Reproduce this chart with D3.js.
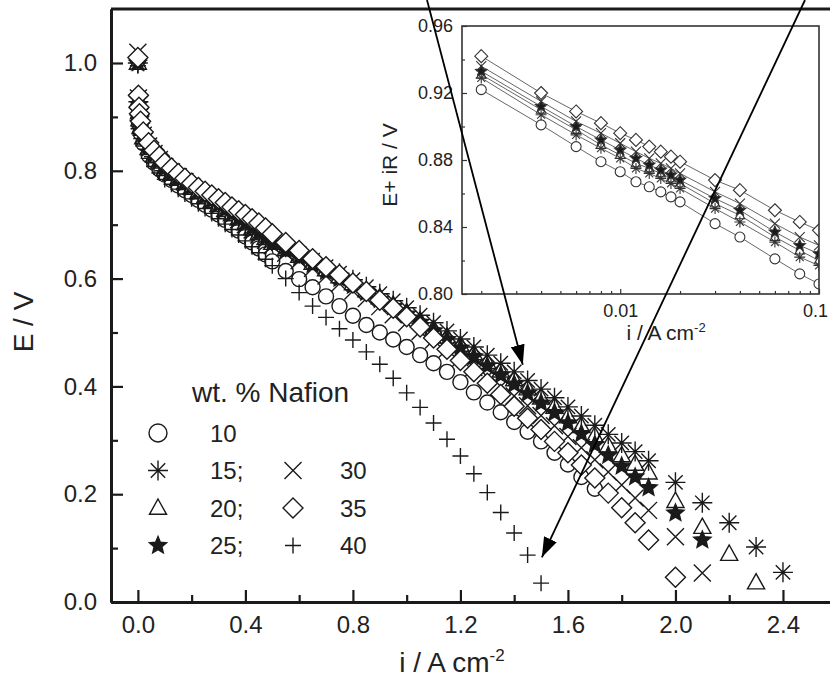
<!DOCTYPE html>
<html lang="en">
<head>
<meta charset="utf-8">
<title>Polarization curves for different Nafion loadings</title>
<script src="https://cdn.jsdelivr.net/npm/d3@7"></script>
<style>
  body { margin: 0; background: #fff; }
  svg { display: block; font-family: "Liberation Sans", Arial, Helvetica, sans-serif; }
</style>
</head>
<body>
<script>
// values (i in A cm-2, E in V)
const currents = [0, 0.002, 0.004, 0.006, 0.01, 0.02, 0.04, 0.06, 0.08,
  0.1, 0.125, 0.15, 0.175, 0.2, 0.225, 0.25, 0.275, 0.3, 0.325, 0.35, 0.375, 0.4, 0.425, 0.45, 0.475, 0.5,
  0.55, 0.6, 0.65, 0.7, 0.75, 0.8, 0.85, 0.9, 0.95, 1.0, 1.05, 1.1, 1.15, 1.2, 1.25, 1.3, 1.35, 1.4,
  1.45, 1.5, 1.55, 1.6, 1.65, 1.7, 1.75, 1.8, 1.85, 1.9];
const tailCurrents = [2.0, 2.1, 2.2, 2.3, 2.4];

const e10 = [1.005, 0.921, 0.899, 0.886, 0.870, 0.851, 0.829, 0.815, 0.803,
  0.793, 0.783, 0.773, 0.764, 0.755, 0.746, 0.737, 0.728, 0.719, 0.709, 0.699, 0.689, 0.678, 0.667, 0.656, 0.645, 0.632,
  0.614, 0.599, 0.584, 0.567, 0.549, 0.531, 0.514, 0.500, 0.487, 0.473, 0.458, 0.443, 0.427, 0.408, 0.389, 0.370,
  0.352, 0.334, 0.316, 0.298, 0.277, 0.255, 0.232, 0.210];
const e15 = [1.00, 0.928, 0.906, 0.893, 0.878, 0.860, 0.840, 0.826, 0.815,
  0.800, 0.792, 0.784, 0.776, 0.768, 0.760, 0.752, 0.744, 0.736, 0.728, 0.720, 0.712, 0.703, 0.695, 0.686, 0.678, 0.670,
  0.658, 0.646, 0.634, 0.622, 0.610, 0.598, 0.585, 0.572, 0.559, 0.546, 0.532, 0.518, 0.503, 0.488, 0.473, 0.458,
  0.443, 0.427, 0.411, 0.395, 0.379, 0.362, 0.345, 0.328, 0.311, 0.295, 0.279, 0.262];
const e20 = [1.00, 0.930, 0.908, 0.895, 0.881, 0.862, 0.842, 0.828, 0.817,
  0.803, 0.794, 0.785, 0.777, 0.768, 0.760, 0.752, 0.744, 0.736, 0.727, 0.719, 0.711, 0.702, 0.693, 0.684, 0.675, 0.666,
  0.654, 0.642, 0.629, 0.617, 0.604, 0.591, 0.578, 0.565, 0.551, 0.537, 0.522, 0.507, 0.492, 0.477, 0.461, 0.445,
  0.429, 0.413, 0.396, 0.379, 0.362, 0.344, 0.326, 0.308, 0.290, 0.272, 0.256, 0.240];
const e25 = [1.00, 0.932, 0.910, 0.897, 0.883, 0.864, 0.844, 0.830, 0.819,
  0.805, 0.796, 0.787, 0.778, 0.770, 0.761, 0.753, 0.745, 0.737, 0.728, 0.720, 0.711, 0.702, 0.693, 0.684, 0.675, 0.665,
  0.652, 0.639, 0.626, 0.613, 0.600, 0.587, 0.574, 0.561, 0.548, 0.534, 0.519, 0.503, 0.487, 0.471, 0.455, 0.438,
  0.421, 0.404, 0.387, 0.369, 0.351, 0.332, 0.312, 0.292, 0.272, 0.252, 0.232, 0.212];
const e30 = [1.02, 0.935, 0.913, 0.900, 0.886, 0.866, 0.846, 0.832, 0.821,
  0.808, 0.798, 0.789, 0.780, 0.771, 0.762, 0.754, 0.745, 0.736, 0.727, 0.718, 0.709, 0.700, 0.690, 0.681, 0.671, 0.661,
  0.647, 0.633, 0.619, 0.605, 0.591, 0.577, 0.563, 0.548, 0.533, 0.518, 0.502, 0.486, 0.469, 0.452, 0.435, 0.418,
  0.400, 0.382, 0.364, 0.346, 0.327, 0.307, 0.286, 0.264, 0.241, 0.217, 0.193, 0.170];
const e35 = [1.01, 0.940, 0.918, 0.906, 0.892, 0.872, 0.852, 0.838, 0.827,
  0.815, 0.805, 0.795, 0.786, 0.777, 0.769, 0.762, 0.755, 0.748, 0.741, 0.733, 0.726, 0.719, 0.711, 0.703, 0.694, 0.683,
  0.667, 0.652, 0.637, 0.622, 0.607, 0.592, 0.576, 0.560, 0.545, 0.529, 0.510, 0.490, 0.469, 0.448, 0.427, 0.406,
  0.385, 0.363, 0.341, 0.320, 0.298, 0.277, 0.254, 0.230, 0.202, 0.175, 0.147, 0.115];
const e40 = [0.995, 0.918, 0.895, 0.882, 0.866, 0.846, 0.823, 0.808, 0.796,
  0.784, 0.775, 0.766, 0.757, 0.748, 0.739, 0.730, 0.721, 0.711, 0.701, 0.691, 0.681, 0.670, 0.659, 0.648, 0.636, 0.624,
  0.600, 0.574, 0.549, 0.528, 0.507, 0.486, 0.464, 0.441, 0.415, 0.388, 0.361, 0.332, 0.302, 0.271, 0.238, 0.203,
  0.166, 0.128, 0.087, 0.035];

// last points past 1.9 A cm-2 (2.0, 2.1, 2.2, 2.3, 2.4)
const tail15 = [0.222, 0.184, 0.147, 0.102, 0.055];
const tail20 = [0.187, 0.139, 0.089, 0.036];
const tail25 = [0.165, 0.115];
const tail30 = [0.121, 0.054];
const tail35 = [0.046];

// inset: iR-corrected potential vs log current
const insetCurrents = [0.002, 0.004, 0.006, 0.008, 0.010, 0.012, 0.014, 0.016, 0.018, 0.020, 0.03, 0.04, 0.06, 0.08, 0.1];
const inset10 = [0.922, 0.901, 0.888, 0.879, 0.873, 0.867, 0.864, 0.861, 0.858, 0.855, 0.842, 0.834, 0.821, 0.812, 0.806];
const inset15 = [0.929, 0.907, 0.895, 0.887, 0.881, 0.875, 0.872, 0.869, 0.866, 0.863, 0.851, 0.843, 0.831, 0.822, 0.817];
const inset20 = [0.931, 0.910, 0.898, 0.889, 0.883, 0.878, 0.875, 0.872, 0.869, 0.866, 0.854, 0.847, 0.834, 0.826, 0.820];
const inset25 = [0.933, 0.912, 0.900, 0.892, 0.886, 0.881, 0.877, 0.874, 0.871, 0.868, 0.857, 0.850, 0.837, 0.829, 0.824];
const inset30 = [0.936, 0.915, 0.903, 0.896, 0.890, 0.885, 0.881, 0.878, 0.875, 0.872, 0.861, 0.854, 0.842, 0.834, 0.829];
const inset35 = [0.942, 0.920, 0.909, 0.902, 0.896, 0.892, 0.888, 0.885, 0.882, 0.879, 0.868, 0.862, 0.850, 0.843, 0.838];

const xMajor = [0, 0.4, 0.8, 1.2, 1.6, 2.0, 2.4];
const xMinor = [0.2, 0.6, 1.0, 1.4, 1.8, 2.2];
const yMajor = [0, 0.2, 0.4, 0.6, 0.8, 1.0];
const yMinor = [0.1, 0.3, 0.5, 0.7, 0.9];
const insetYMajor = [0.80, 0.84, 0.88, 0.92, 0.96];
const insetYMinor = [0.82, 0.86, 0.90, 0.94];
const insetXMajor = [0.01, 0.1];
const insetXMinor = [0.002, 0.003, 0.004, 0.005, 0.006, 0.007, 0.008, 0.009,
  0.02, 0.03, 0.04, 0.05, 0.06, 0.07, 0.08, 0.09];

const width = 830, height = 679;
const ink = "#1a1a1a";

// marker shapes, size = radius in px
const shapes = {
  circle: { draw(c, r) { c.moveTo(r, 0); c.arc(0, 0, r, 0, 2 * Math.PI); } },
  diamond: { draw(c, r) { c.moveTo(0, -r); c.lineTo(r, 0); c.lineTo(0, r); c.lineTo(-r, 0); c.closePath(); } },
  triangle: { draw(c, r) { c.moveTo(0, -r); c.lineTo(r * 0.95, r * 0.7); c.lineTo(-r * 0.95, r * 0.7); c.closePath(); } },
  star: { draw(c, r) {
    for (let k = 0; k < 10; k++) {
      const a = -Math.PI / 2 + k * Math.PI / 5, rr = k % 2 ? r * 0.45 : r;
      if (k) c.lineTo(rr * Math.cos(a), rr * Math.sin(a)); else c.moveTo(rr * Math.cos(a), rr * Math.sin(a));
    }
    c.closePath();
  } },
  asterisk: { draw(c, r) {
    const d = r * 0.72;
    c.moveTo(0, -r); c.lineTo(0, r); c.moveTo(-r, 0); c.lineTo(r, 0);
    c.moveTo(-d, -d); c.lineTo(d, d); c.moveTo(d, -d); c.lineTo(-d, d);
  } },
  cross: { draw(c, r) { c.moveTo(-r, -r); c.lineTo(r, r); c.moveTo(r, -r); c.lineTo(-r, r); } },
  plus: { draw(c, r) { c.moveTo(0, -r); c.lineTo(0, r); c.moveTo(-r, 0); c.lineTo(r, 0); } }
};

// draw order: back to front (diamonds last, like the white hatch in the scan)
const series = [
  { key: "10", e: e10, tail: [], shape: shapes.circle, r: 7.5, fill: "#fff", ir: inset10, insetR: 5 },
  { key: "20", e: e20, tail: tail20, shape: shapes.triangle, r: 9, fill: "#fff", ir: inset20, insetR: 5 },
  { key: "40", e: e40, tail: [], shape: shapes.plus, r: 8, fill: "none", ir: null },
  { key: "30", e: e30, tail: tail30, shape: shapes.cross, r: 8.5, fill: "none", ir: inset30, insetR: 5 },
  { key: "15", e: e15, tail: tail15, shape: shapes.asterisk, r: 10, fill: "none", ir: inset15, insetR: 5.5 },
  { key: "25", e: e25, tail: tail25, shape: shapes.star, r: 9, fill: ink, ir: inset25, insetR: 6 },
  { key: "35", e: e35, tail: tail35, shape: shapes.diamond, r: 10, fill: "#fff", ir: inset35, insetR: 6.5 }
];

const svg = d3.select("body").append("svg")
  .attr("width", width)
  .attr("height", height);
const defs = svg.append("defs");

const x = d3.scaleLinear().domain([-0.1, 2.575]).range([111, 830]);
const y = d3.scaleLinear().domain([0, 1.1]).range([602, 9.1]);

// top frame line
svg.append("line")
  .attr("x1", x.range()[0]).attr("x2", x.range()[1])
  .attr("y1", y(1.1)).attr("y2", y(1.1))
  .attr("stroke", ink).attr("stroke-width", 3);

// axes (ticks point inwards)
function styleAxis(g, fs) {
  g.select(".domain").attr("stroke", ink).attr("stroke-width", 3);
  g.selectAll(".tick line").attr("stroke", ink).attr("stroke-width", 2.2);
  g.selectAll(".tick text").attr("fill", "#222").style("font-size", fs + "px")
    .style("font-family", "'Liberation Sans', Arial, sans-serif");
}

svg.append("g").attr("transform", `translate(0,${y(0)})`)
  .call(d3.axisBottom(x).tickValues(xMinor).tickFormat("").tickSizeInner(-7).tickSizeOuter(0))
  .call(g => styleAxis(g, 24));
svg.append("g").attr("transform", `translate(0,${y(0)})`)
  .call(d3.axisBottom(x).tickValues(xMajor).tickFormat(d3.format(".1f")).tickSizeInner(-12).tickSizeOuter(0).tickPadding(14))
  .call(g => styleAxis(g, 24));
svg.append("g").attr("transform", `translate(${x(-0.1)},0)`)
  .call(d3.axisLeft(y).tickValues(yMinor).tickFormat("").tickSizeInner(-7).tickSizeOuter(0))
  .call(g => styleAxis(g, 24));
svg.append("g").attr("transform", `translate(${x(-0.1)},0)`)
  .call(d3.axisLeft(y).tickValues(yMajor).tickFormat(d3.format(".1f")).tickSizeInner(-12).tickSizeOuter(0).tickPadding(14))
  .call(g => styleAxis(g, 24));

// axis titles
svg.append("text")
  .attr("transform", "translate(33,322) rotate(-90)")
  .attr("text-anchor", "middle")
  .attr("fill", "#222")
  .style("font-size", "28px")
  .text("E / V");

const xt = svg.append("text")
  .attr("x", 452).attr("y", 672)
  .attr("text-anchor", "middle")
  .attr("fill", "#222")
  .style("font-size", "28px");
xt.append("tspan").text("i / A cm");
xt.append("tspan").attr("dy", -11).style("font-size", "17px").text("-2");

// main data
const sym = d3.symbol();
series.forEach(s => {
  const pts = s.e.map((v, k) => ({ i: currents[k], E: v }))
    .concat(s.tail.map((v, k) => ({ i: tailCurrents[k], E: v })));
  svg.append("g")
    .selectAll("path")
    .data(pts)
    .join("path")
    .attr("transform", d => `translate(${x(d.i)},${y(d.E)})`)
    .attr("d", sym.type(s.shape).size(s.r)())
    .attr("fill", s.fill)
    .attr("stroke", ink)
    .attr("stroke-width", 1.4);
});

// legend
const legend = svg.append("g");
legend.append("text")
  .attr("x", 192).attr("y", 402)
  .attr("fill", "#222")
  .style("font-size", "28px")
  .text("wt. % Nafion");

const legendItems = [
  { key: "10", label: "10", col: 0, row: 0 },
  { key: "15", label: "15;", col: 0, row: 1 },
  { key: "20", label: "20;", col: 0, row: 2 },
  { key: "25", label: "25;", col: 0, row: 3 },
  { key: "30", label: "30", col: 1, row: 1 },
  { key: "35", label: "35", col: 1, row: 2 },
  { key: "40", label: "40", col: 1, row: 3 }
];
legendItems.forEach(it => {
  const s = series.find(d => d.key === it.key);
  const sx = it.col ? 293 : 158, lx = it.col ? 340 : 210, ly = 433 + it.row * 37.5;
  legend.append("path")
    .attr("transform", `translate(${sx},${ly})`)
    .attr("d", d3.symbol().type(s.shape).size(s.key === "10" ? 9 : s.r)())
    .attr("fill", s.fill)
    .attr("stroke", ink)
    .attr("stroke-width", 1.4);
  legend.append("text")
    .attr("x", lx).attr("y", ly + 8.5)
    .attr("fill", "#222")
    .style("font-size", "24px")
    .text(it.label);
});

// inset
const xi = d3.scaleLog().domain([0.0016, 0.1]).range([462, 819]);
const yi = d3.scaleLinear().domain([0.80, 0.96]).range([294, 26]);
const inset = svg.append("g");

inset.append("rect")
  .attr("x", 462).attr("y", 26)
  .attr("width", 819 - 462).attr("height", 294 - 26)
  .attr("fill", "#fff");

defs.append("clipPath").attr("id", "insetClip")
  .append("rect")
  .attr("x", 462).attr("y", 26)
  .attr("width", 819 - 462).attr("height", 294 - 26);

const plotArea = inset.append("g").attr("clip-path", "url(#insetClip)");
const line = d3.line().x(d => xi(d.i)).y(d => yi(d.E));
series.filter(s => s.ir).forEach(s => {
  plotArea.append("path")
    .datum(s.ir.map((v, k) => ({ i: insetCurrents[k], E: v })))
    .attr("d", line)
    .attr("fill", "none")
    .attr("stroke", "#555")
    .attr("stroke-width", 0.9);
});
series.filter(s => s.ir).forEach(s => {
  plotArea.append("g")
    .selectAll("path")
    .data(s.ir.map((v, k) => ({ i: insetCurrents[k], E: v })))
    .join("path")
    .attr("transform", d => `translate(${xi(d.i)},${yi(d.E)})`)
    .attr("d", d3.symbol().type(s.shape).size(s.insetR)())
    .attr("fill", s.fill)
    .attr("stroke", "#333")
    .attr("stroke-width", 1.1);
});

inset.append("rect")
  .attr("x", 462).attr("y", 26)
  .attr("width", 819 - 462).attr("height", 294 - 26)
  .attr("fill", "none")
  .attr("stroke", "#333")
  .attr("stroke-width", 1.6);

function styleInset(g) {
  g.select(".domain").remove();
  g.selectAll(".tick line").attr("stroke", "#333").attr("stroke-width", 1.2);
  g.selectAll(".tick text").attr("fill", "#222").style("font-size", "18px")
    .style("font-family", "'Liberation Sans', Arial, sans-serif");
}
inset.append("g").attr("transform", "translate(0,294)")
  .call(d3.axisBottom(xi).tickValues(insetXMinor).tickFormat("").tickSizeInner(-3).tickSizeOuter(0))
  .call(styleInset);
inset.append("g").attr("transform", "translate(0,294)")
  .call(d3.axisBottom(xi).tickValues(insetXMajor).tickFormat(d => d === 0.1 ? "0.1" : "0.01").tickSizeInner(-5).tickSizeOuter(0).tickPadding(10))
  .call(styleInset)
  .call(g => g.selectAll(".tick text").filter(d => d === 0.1).attr("dx", -4));
inset.append("g").attr("transform", "translate(462,0)")
  .call(d3.axisLeft(yi).tickValues(insetYMinor).tickFormat("").tickSizeInner(-3).tickSizeOuter(0))
  .call(styleInset);
inset.append("g").attr("transform", "translate(462,0)")
  .call(d3.axisLeft(yi).tickValues(insetYMajor).tickFormat(d3.format(".2f")).tickSizeInner(-5).tickSizeOuter(0).tickPadding(9))
  .call(styleInset);

inset.append("text")
  .attr("transform", "translate(397,165) rotate(-90)")
  .attr("text-anchor", "middle")
  .attr("fill", "#222")
  .style("font-size", "21px")
  .text("E+ iR / V");
const xit = inset.append("text")
  .attr("x", 666).attr("y", 340)
  .attr("text-anchor", "middle")
  .attr("fill", "#222")
  .style("font-size", "21px");
xit.append("tspan").text("i / A cm");
xit.append("tspan").attr("dy", -8).style("font-size", "13px").text("-2");

// annotation arrows (start outside the picture, tips on the main plot)
defs.append("marker")
  .attr("id", "head")
  .attr("viewBox", "0 0 20 14")
  .attr("refX", 20).attr("refY", 7)
  .attr("markerWidth", 20).attr("markerHeight", 14)
  .attr("markerUnits", "userSpaceOnUse")
  .attr("orient", "auto")
  .append("path").attr("d", "M0,0L20,7L0,14Z").attr("fill", "#000");

const arrows = [
  { x0: 427, y0: 0, i: 1.432, E: 0.44 },
  { x0: 805, y0: 0, i: 1.503, E: 0.083 }
];
svg.append("g")
  .selectAll("line")
  .data(arrows)
  .join("line")
  .attr("x1", d => d.x0).attr("y1", d => d.y0)
  .attr("x2", d => x(d.i)).attr("y2", d => y(d.E))
  .attr("stroke", "#000")
  .attr("stroke-width", 1.8)
  .attr("marker-end", "url(#head)");
</script>
</body>
</html>
